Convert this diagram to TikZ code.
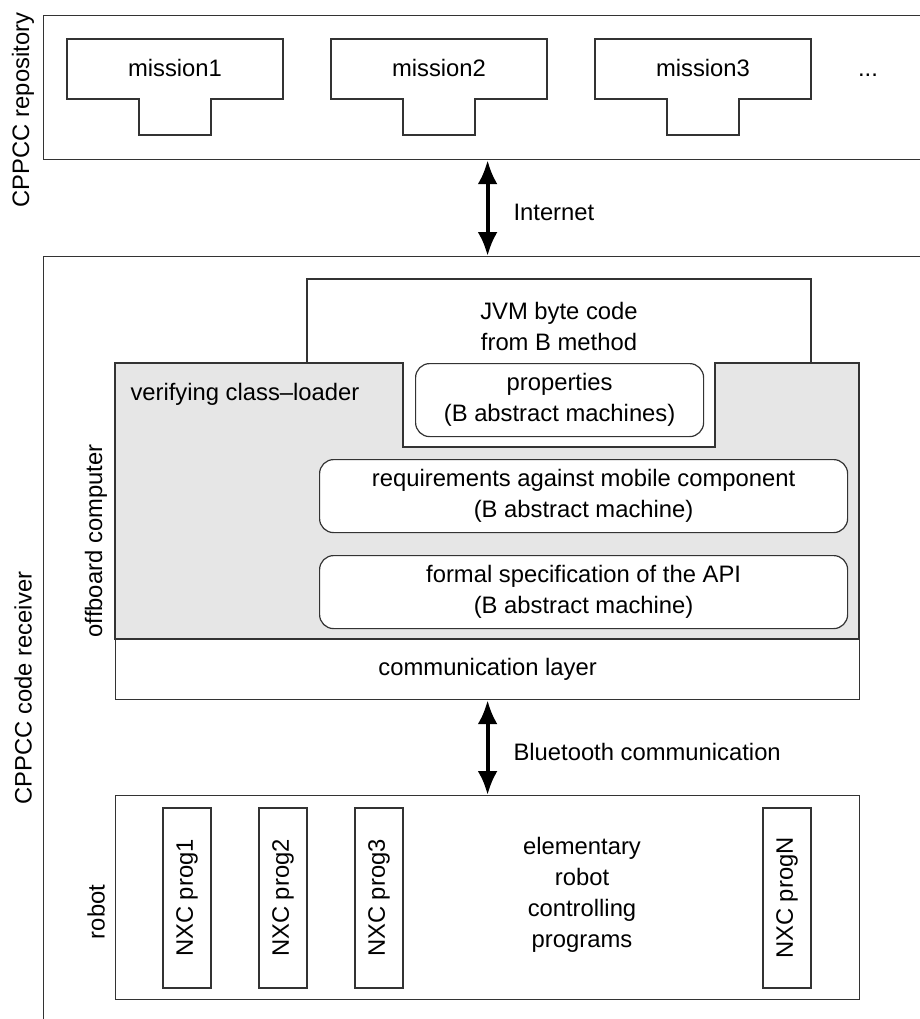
\documentclass[tikz,border=0pt]{standalone}
\usepackage{fontspec}
\setmainfont{Liberation Sans}
\usetikzlibrary{arrows.meta,positioning}

\definecolor{edgegray}{HTML}{333333}
\definecolor{loadergray}{HTML}{E6E6E6}

\tikzset{
  box/.style={draw=edgegray, line width=1.2pt, fill=white, inner sep=0pt},
  rbox/.style={box, rounded corners=14pt, align=center},
  progbox/.style={box, rotate=90, minimum width=180pt, minimum height=48pt},
  link/.style={line width=4pt, {Latex[length=24pt,width=20pt]}-{Latex[length=24pt,width=20pt]}},
  vlabel/.style={rotate=90},
}

\begin{document}
\begin{tikzpicture}[x=1pt, y=-1pt, font=\fontsize{23.8}{31}\selectfont]
\useasboundingbox (0,0) rectangle (920,1019);
\clip (0,0) rectangle (920,1019);

% outer frames
\node[box, anchor=north west, minimum width=897pt, minimum height=800pt] (recv) at (43,256) {};
\node[box, anchor=north west, minimum width=897pt, minimum height=144pt] (repo) at (43,15) {};
\node[vlabel] (repolabel) at (23,110) {CPPCC repository};
\node[vlabel] (recvlabel) at (23,688) {CPPCC code receiver};

% missions
\foreach \i/\x in {1/67, 2/331, 3/595} {
  \draw[box] (\x,39) -- ++(216,0) -- ++(0,60) -- ++(-72,0) -- ++(0,36)
    -- ++(-72,0) -- ++(0,-36) -- ++(-72,0) -- cycle;
  \node[anchor=base] (mission\i) at (\x+108,77) {mission\i};
}
\node[anchor=base] (more) at (868,77) {...};

% offboard computer
\node[box, anchor=north west, minimum width=744pt, minimum height=60pt] (comm) at (115,639) {communication layer};
\draw[box, fill=loadergray] (115,363) -- (403,363) -- (403,447) -- (715,447)
  -- (715,363) -- (859,363) -- (859,639) -- (115,639) -- cycle;
\draw[box] (307,279) -- (811,279) -- (811,363) -- (715,363) -- (715,447)
  -- (403,447) -- (403,363) -- (307,363) -- cycle;
\node[align=center] (jvm) at (559,326) {JVM byte code\\from B method};
\node[anchor=base west] (loader) at (127,400) {verifying class--loader};
\node[rbox, anchor=north west, minimum width=288pt, minimum height=73pt] (props) at (415,363)
  {properties\\(B abstract machines)};
\node[rbox, anchor=north west, minimum width=528pt, minimum height=73pt] (reqs) at (319,459)
  {requirements against mobile component\\(B abstract machine)};
\node[rbox, anchor=north west, minimum width=528pt, minimum height=73pt] (api) at (319,555)
  {formal specification of the API\\(B abstract machine)};
\node[vlabel] (offlabel) at (96,541) {offboard computer};

% robot
\node[box, anchor=north west, minimum width=744pt, minimum height=204pt] (robot) at (115,795) {};
\node[vlabel] (robotlabel) at (96,912) {robot};
\foreach \i/\x in {1/187, 2/283, 3/379, N/787}
  \node[progbox] (prog\i) at (\x,898) {NXC prog\i};
\node[align=center] (elem) at (582,895) {elementary\\robot\\controlling\\programs};

% links
\draw[link] (repo.south -| comm.south) -- (recv.north -| comm.south);
\node[anchor=west] (inet) at (510,212) {Internet};
\draw[link] (comm.south) -- (robot.north);
\node[anchor=west] (bt) at (510,752) {Bluetooth communication};
\end{tikzpicture}
\end{document}
